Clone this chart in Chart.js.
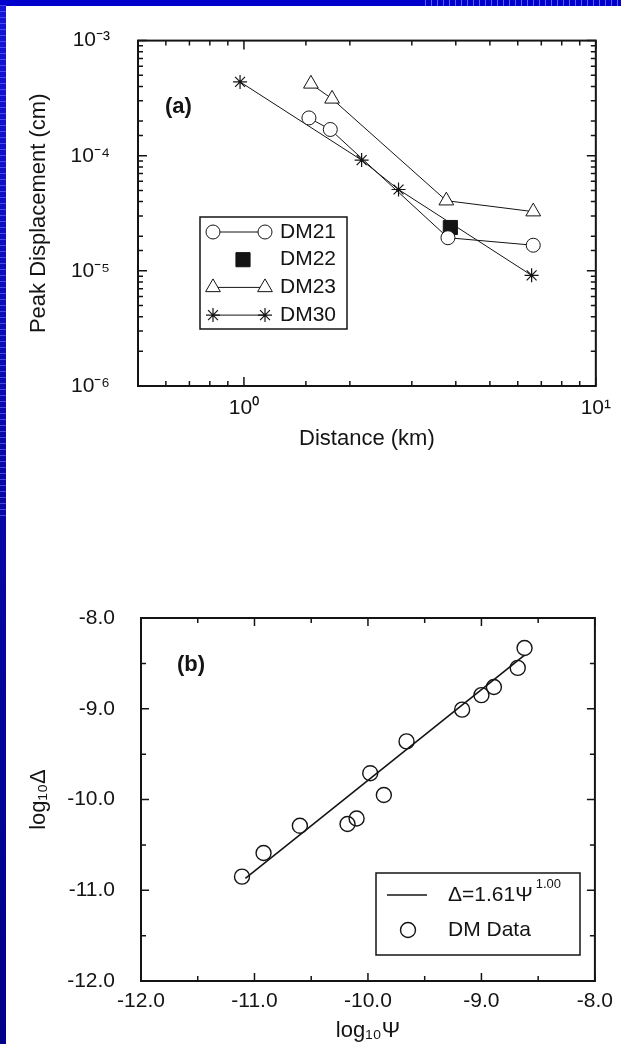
<!DOCTYPE html>
<html>
<head>
<meta charset="utf-8">
<script src="https://cdn.jsdelivr.net/npm/chart.js"></script>
<style>
  html, body { margin:0; padding:0; }
  body { width:621px; height:1044px; overflow:hidden; position:relative;
         background: linear-gradient(180deg, #1414d8 0%, #0808a8 45%, #000088 100%); }
  #topband { position:absolute; left:0; top:0; width:621px; height:6px;
         background: #0000cc; }
  #topband .pat { position:absolute; left:420px; top:0; right:0; height:6px;
         background: repeating-linear-gradient(90deg, #0000cc 0px, #0000cc 5px, #5a5aff 5px, #5a5aff 6px); }
  #leftpat { position:absolute; left:0; top:0; width:6px; height:520px;
         background: repeating-linear-gradient(180deg, transparent 0px, transparent 5px, rgba(120,120,255,0.55) 5px, rgba(120,120,255,0.55) 6px); }
  #paper { position:absolute; left:6px; top:6px; right:0; bottom:0; background:#fff; }
  canvas { position:absolute; left:0; }
</style>
</head>
<body>
<div id="topband"><div class="pat"></div></div>
<div id="leftpat"></div>
<div id="paper"></div>
<canvas id="ca" width="621" height="520" style="top:0px;width:621px;height:520px"></canvas>
<canvas id="cb" width="621" height="504" style="top:540px;width:621px;height:504px"></canvas>
<script>
// ---------------- DATA : panel (a) ----------------
const distDM21 = [1.53, 1.76, 3.80, 6.64];
const dispDM21 = [2.13e-4, 1.69e-4, 1.94e-5, 1.67e-5];
const distDM22 = [3.86];
const dispDM22 = [2.38e-5];
const distDM23 = [1.55, 1.78, 3.76, 6.64];
const dispDM23 = [4.21e-4, 3.12e-4, 4.07e-5, 3.27e-5];
const distDM30 = [0.975, 2.16, 2.75, 6.57];
const dispDM30 = [4.38e-4, 9.16e-5, 5.09e-5, 9.14e-6];

const distTickValues = [1, 10];
const distTickLabels = ['10\u2070', '10\u00B9'];
const dispTickValues = [1e-6, 1e-5, 1e-4, 1e-3];
const dispTickLabels = ['10\u207B\u2076', '10\u207B\u2075', '10\u207B\u2074', '10\u207B\u00B3'];

// ---------------- DATA : panel (b) ----------------
const logPsiData   = [-11.11, -10.92, -10.60, -10.18, -10.10, -9.98, -9.86, -9.66, -9.17, -9.00, -8.89, -8.68, -8.62];
const logDeltaData = [-10.85, -10.59, -10.29, -10.27, -10.21, -9.71, -9.95, -9.36, -9.01, -8.85, -8.76, -8.55, -8.33];
const fitLogPsi    = [-11.08, -8.62];
const fitLogDelta  = [-10.87, -8.41];

const psiTickValues   = [-12, -11, -10, -9, -8];
const psiTickLabels   = ['-12.0', '-11.0', '-10.0', '-9.0', '-8.0'];
const deltaTickValues = [-12, -11, -10, -9, -8];
const deltaTickLabels = ['-12.0', '-11.0', '-10.0', '-9.0', '-8.0'];

// ---------------- helpers ----------------
const FONT = "'Liberation Sans', Arial, Helvetica, sans-serif";
const INK = '#141414';
function zip(xs, ys) { return xs.map((x, i) => ({x: x, y: ys[i]})); }
function lookupLabel(values, labels, v, logScale) {
  for (let i = 0; i < values.length; i++) {
    const a = logScale ? Math.log10(values[i]) : values[i];
    const b = logScale ? Math.log10(v) : v;
    if (Math.abs(a - b) < 1e-6) return labels[i];
  }
  return '';
}
function isMajor(scale, v) {
  if (scale.type === 'logarithmic') {
    const l = Math.log10(v);
    return Math.abs(l - Math.round(l)) < 1e-6;
  }
  return Math.abs(v - Math.round(v)) < 1e-6;
}
function drawMarker(ctx, style, x, y, r, fill) {
  ctx.beginPath();
  if (style === 'circle') {
    ctx.arc(x, y, r, 0, Math.PI * 2);
    ctx.closePath();
    if (fill) { ctx.fillStyle = fill; ctx.fill(); }
    ctx.stroke();
  } else if (style === 'rect') {
    const s = Math.SQRT1_2 * r;
    ctx.rect(x - s, y - s, 2 * s, 2 * s);
    if (fill) { ctx.fillStyle = fill; ctx.fill(); }
    ctx.stroke();
  } else if (style === 'triangle') {
    let rad = 0;
    ctx.moveTo(x + Math.sin(rad) * r, y - Math.cos(rad) * r);
    rad += Math.PI * 2 / 3;
    ctx.lineTo(x + Math.sin(rad) * r, y - Math.cos(rad) * r);
    rad += Math.PI * 2 / 3;
    ctx.lineTo(x + Math.sin(rad) * r, y - Math.cos(rad) * r);
    ctx.closePath();
    if (fill) { ctx.fillStyle = fill; ctx.fill(); }
    ctx.stroke();
  } else if (style === 'star') {
    for (let k = 0; k < 4; k++) {
      const ang = k * Math.PI / 4;
      ctx.moveTo(x - Math.cos(ang) * r, y - Math.sin(ang) * r);
      ctx.lineTo(x + Math.cos(ang) * r, y + Math.sin(ang) * r);
    }
    ctx.stroke();
  }
}

// frame + inward ticks on all four sides
const frameTicks = {
  id: 'frameTicks',
  afterDatasetsDraw(chart, args, opts) {
    const {ctx, chartArea: a} = chart;
    const xs = chart.scales.x, ys = chart.scales.y;
    ctx.save();
    ctx.strokeStyle = INK;
    ctx.lineWidth = 1.5;
    ctx.beginPath();
    xs.ticks.forEach(t => {
      const p = xs.getPixelForValue(t.value);
      const len = isMajor(xs, t.value) ? opts.major : opts.minor;
      ctx.moveTo(p, a.bottom); ctx.lineTo(p, a.bottom - len);
      ctx.moveTo(p, a.top); ctx.lineTo(p, a.top + len);
    });
    ys.ticks.forEach(t => {
      const p = ys.getPixelForValue(t.value);
      const len = isMajor(ys, t.value) ? opts.major : opts.minor;
      ctx.moveTo(a.left, p); ctx.lineTo(a.left + len, p);
      ctx.moveTo(a.right, p); ctx.lineTo(a.right - len, p);
    });
    ctx.stroke();
    ctx.lineWidth = 2;
    ctx.strokeRect(a.left, a.top, a.right - a.left, a.bottom - a.top);
    ctx.restore();
  }
};

// panel letter
const panelTag = {
  id: 'panelTag',
  afterDraw(chart, args, opts) {
    const ctx = chart.ctx;
    ctx.save();
    ctx.fillStyle = INK;
    ctx.font = 'bold 22px ' + FONT;
    ctx.textBaseline = 'middle';
    ctx.textAlign = 'left';
    ctx.fillText(opts.text, opts.x, opts.y);
    ctx.restore();
  }
};

// legend inside the plot, drawn from the datasets
const boxLegend = {
  id: 'boxLegend',
  afterDraw(chart, args, opts) {
    const ctx = chart.ctx;
    ctx.save();
    ctx.strokeStyle = INK;
    ctx.lineWidth = 1.5;
    ctx.strokeRect(opts.left, opts.top, opts.width, opts.height);
    const order = opts.order;
    order.forEach((di, row) => {
      const ds = chart.data.datasets[di];
      const y = opts.top + opts.firstRow + row * opts.rowGap;
      ctx.strokeStyle = INK;
      ctx.lineWidth = 1;
      if (ds.showLine) {
        ctx.beginPath();
        ctx.moveTo(opts.lineX0, y); ctx.lineTo(opts.lineX1, y);
        ctx.lineWidth = ds.borderWidth || 1;
        ctx.stroke();
      }
      if (ds.pointRadius > 0) {
        ctx.lineWidth = ds.pointBorderWidth || 1;
        const fill = ds.pointStyle === 'star' ? null : ds.pointBackgroundColor;
        if (ds.showLine && opts.bothEnds) {
          drawMarker(ctx, ds.pointStyle, opts.lineX0, y, ds.pointRadius, fill);
          drawMarker(ctx, ds.pointStyle, opts.lineX1, y, ds.pointRadius, fill);
        } else {
          drawMarker(ctx, ds.pointStyle, opts.markX, y, ds.pointRadius, fill);
        }
      }
      ctx.fillStyle = INK;
      ctx.font = '21px ' + FONT;
      ctx.textBaseline = 'middle';
      ctx.textAlign = 'left';
      const label = ds.label;
      ctx.fillText(label, opts.textX, y);
      if (ds.labelSup) {
        const w = ctx.measureText(label).width;
        ctx.font = '13px ' + FONT;
        ctx.fillText(ds.labelSup, opts.textX + w + 3, y - 11);
      }
    });
    ctx.restore();
  }
};

Chart.register(frameTicks, panelTag, boxLegend);

function axisCommon(extra) {
  return Object.assign({
    grid: { display: false, drawTicks: false },
    border: { display: false },
  }, extra);
}

// ---------------- panel (a) ----------------
new Chart(document.getElementById('ca'), {
  type: 'scatter',
  data: {
    datasets: [
      { label: 'DM21', data: zip(distDM21, dispDM21), showLine: true, borderColor: INK, borderWidth: 1,
        pointStyle: 'circle', pointRadius: 7, pointBackgroundColor: '#fff', pointBorderColor: INK, pointBorderWidth: 1 },
      { label: 'DM22', data: zip(distDM22, dispDM22), showLine: false, borderColor: INK,
        pointStyle: 'rect', pointRadius: 10, pointBackgroundColor: INK, pointBorderColor: INK, pointBorderWidth: 1 },
      { label: 'DM23', data: zip(distDM23, dispDM23), showLine: true, borderColor: INK, borderWidth: 1,
        pointStyle: 'triangle', pointRadius: 8.5, pointBackgroundColor: '#fff', pointBorderColor: INK, pointBorderWidth: 1 },
      { label: 'DM30', data: zip(distDM30, dispDM30), showLine: true, borderColor: INK, borderWidth: 1,
        pointStyle: 'star', pointRadius: 7, pointBackgroundColor: INK, pointBorderColor: INK, pointBorderWidth: 1.2 }
    ]
  },
  options: {
    responsive: false,
    animation: false,
    layout: { padding: { left: 0, top: 24, right: 23, bottom: 64 } },
    plugins: {
      legend: { display: false },
      tooltip: { enabled: false },
      frameTicks: { major: 9, minor: 5 },
      panelTag: { text: '(a)', x: 165, y: 107 },
      boxLegend: { left: 200, top: 217, width: 147, height: 112, firstRow: 15, rowGap: 27.7,
                   lineX0: 213, lineX1: 265, markX: 243, textX: 280, bothEnds: true, order: [0, 1, 2, 3] }
    },
    scales: {
      x: axisCommon({
        type: 'logarithmic', min: 0.5, max: 10,
        afterFit: s => { s.height = 70; },
        ticks: { autoSkip: false, maxRotation: 0, padding: 10, color: INK,
                 font: { family: FONT, size: 21 },
                 callback: v => lookupLabel(distTickValues, distTickLabels, v, true) },
        title: { display: true, text: 'Distance (km)', color: INK,
                 font: { family: FONT, size: 22 }, padding: { top: 0, bottom: 4 } }
      }),
      y: axisCommon({
        type: 'logarithmic', min: 1e-6, max: 1e-3,
        afterFit: s => { s.width = 138; },
        ticks: { autoSkip: false, padding: 28, color: INK,
                 font: { family: FONT, size: 21 },
                 callback: v => lookupLabel(dispTickValues, dispTickLabels, v, true) },
        title: { display: true, text: 'Peak Displacement (cm)', color: INK,
                 font: { family: FONT, size: 22 }, padding: { top: 26, bottom: 0 } }
      })
    }
  }
});

// ---------------- panel (b) ----------------
new Chart(document.getElementById('cb'), {
  type: 'scatter',
  data: {
    datasets: [
      { label: '\u0394=1.61\u03A8', labelSup: '1.00', data: zip(fitLogPsi, fitLogDelta), showLine: true,
        borderColor: INK, borderWidth: 1.6, pointRadius: 0 },
      { label: 'DM Data', data: zip(logPsiData, logDeltaData), showLine: false,
        pointStyle: 'circle', pointRadius: 7.5, pointBackgroundColor: 'rgba(0,0,0,0)',
        pointBorderColor: INK, pointBorderWidth: 1.4 }
    ]
  },
  options: {
    responsive: false,
    animation: false,
    layout: { padding: { left: 0, top: 78, right: 22, bottom: 0 } },
    plugins: {
      legend: { display: false },
      tooltip: { enabled: false },
      frameTicks: { major: 8, minor: 5 },
      panelTag: { text: '(b)', x: 177, y: 125 },
      boxLegend: { left: 376, top: 333, width: 204, height: 82, firstRow: 22, rowGap: 35,
                   lineX0: 387, lineX1: 427, markX: 408, textX: 448, bothEnds: false, order: [0, 1] }
    },
    scales: {
      x: axisCommon({
        type: 'linear', min: -12, max: -8,
        afterFit: s => { s.height = 63; },
        ticks: { stepSize: 0.5, autoSkip: false, maxRotation: 0, padding: 8, color: INK,
                 font: { family: FONT, size: 21 },
                 callback: v => lookupLabel(psiTickValues, psiTickLabels, v, false) },
        title: { display: true, text: 'log\u2081\u2080\u03A8', color: INK,
                 font: { family: FONT, size: 22 }, padding: { top: 0, bottom: 0 } }
      }),
      y: axisCommon({
        type: 'linear', min: -12, max: -8,
        afterFit: s => { s.width = 141; },
        ticks: { stepSize: 0.5, autoSkip: false, padding: 26, color: INK,
                 font: { family: FONT, size: 21 },
                 callback: v => lookupLabel(deltaTickValues, deltaTickLabels, v, false) },
        title: { display: true, text: 'log\u2081\u2080\u0394', color: INK,
                 font: { family: FONT, size: 22 }, padding: { top: 26, bottom: 0 } }
      })
    }
  }
});
</script>
</body>
</html>
